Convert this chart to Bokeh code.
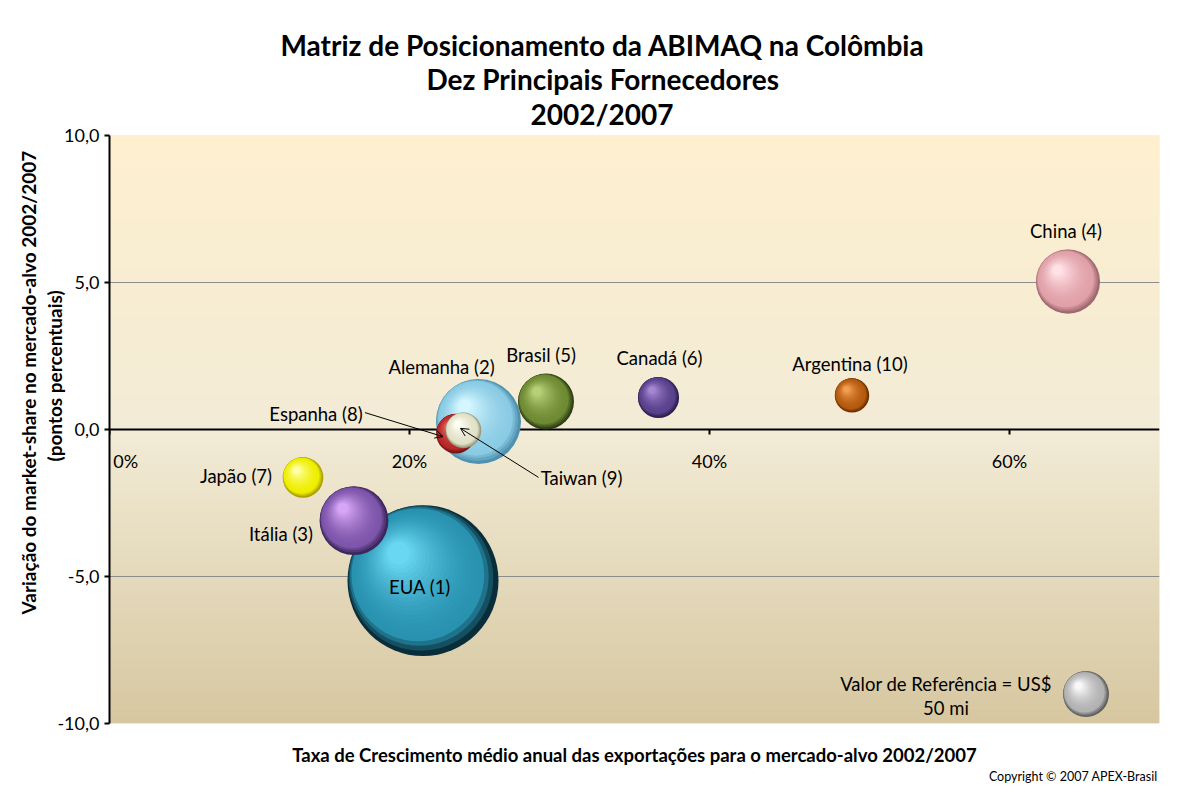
import numpy as np
from bokeh.plotting import figure
from bokeh.models import Range1d, FixedTicker, LinearAxis, Title, Arrow, OpenHead
from bokeh.core.properties import value
from bokeh.embed import file_html
from bokeh.resources import INLINE

# ---------------- data ----------------
countries = ["EUA (1)", "Alemanha (2)", "Itália (3)", "China (4)", "Brasil (5)",
             "Canadá (6)", "Japão (7)", "Espanha (8)", "Taiwan (9)", "Argentina (10)"]
growth = [20.9, 24.6, 16.3, 63.9, 29.1, 36.6, 12.9, 23.1, 23.6, 49.5]        # % a.a.
share_var = [-5.14, 0.27, -3.10, 5.03, 0.95, 1.09, -1.63, -0.14, -0.03, 1.16]  # p.p.
exports = [539, 171, 112, 97, 74, 40, 39, 37, 30, 28]                        # US$ mi

ref_text = "Valor de Referência = US$\n50 mi"
ref_value = 50
ref_x = 65.1
ref_y = -9.0

x_ticks = [0, 20, 40, 60]
x_tick_labels = ["0%", "20%", "40%", "60%"]
y_ticks = [-10, -5, 0, 5, 10]
y_tick_labels = ["-10,0", "-5,0", "0,0", "5,0", "10,0"]
grid_ticks = [-10, -5, 5, 10]

title_lines = ["Matriz de Posicionamento da ABIMAQ na Colômbia",
               "Dez Principais Fornecedores", "2002/2007"]
x_title = "Taxa de Crescimento médio anual das exportações para o mercado-alvo 2002/2007"
y_title = ["Variação do market-share no mercado-alvo 2002/2007", "(pontos percentuais)"]
copyright_text = "Copyright © 2007 APEX-Brasil"

# ---------------- style ----------------
FONT = "Lato"
W, H = 1178, 792
ML, MT = 109, 135
FW, FH = 1050, 588
MR, MB = W - ML - FW, H - MT - FH
X0, X1, Y0, Y1 = 0, 70, -10, 10
PXX = FW / (X1 - X0)
PXY = FH / (Y1 - Y0)
REF_D = 46  # px diameter of the reference bubble

# (dark edge, base, highlight)
palette = [
    ((10, 45, 58), (40, 146, 176), (105, 215, 242)),
    ((80, 145, 175), (138, 203, 228), (212, 246, 255)),
    ((60, 38, 92), (125, 85, 170), (215, 165, 245)),
    ((160, 105, 112), (225, 160, 168), (255, 225, 230)),
    ((48, 64, 22), (110, 138, 50), (182, 208, 118)),
    ((45, 30, 78), (90, 65, 140), (165, 135, 212)),
    ((170, 160, 0), (238, 238, 0), (255, 255, 165)),
    ((115, 22, 22), (185, 40, 40), (235, 120, 120)),
    ((155, 155, 125), (225, 225, 200), (255, 255, 245)),
    ((105, 48, 0), (180, 90, 15), (242, 158, 80)),
]
ref_palette = ((95, 95, 95), (178, 178, 178), (248, 248, 248))

label_dx = [-3, -37, -73, -2, -5, 1, -67, -140, 118, -2]
label_dy = [6, -55, 13, -51, -47, -39, -1, -20, 48, -31]

p = figure(width=W, height=H, x_range=Range1d(X0, X1), y_range=Range1d(Y0, Y1),
           output_backend="svg", toolbar_location=None,
           min_border_left=ML, min_border_right=MR, min_border_top=MT, min_border_bottom=MB)
p.outline_line_color = None
p.background_fill_color = "#f2ebd6"
p.border_fill_color = "white"

# gradient background (decorative stripes)
def mix(c1, c2, t):
    return tuple(int(round(a + (b - a) * t)) for a, b in zip(c1, c2))

def hexc(c):
    return "#%02x%02x%02x" % c

stops = [(-10, (214, 199, 160)), (0, (242, 235, 214)), (10, (254, 239, 207))]
n = 120
edges = np.linspace(Y0, Y1, n + 1)
cols = []
for i in range(n):
    ym = (edges[i] + edges[i + 1]) / 2
    if ym < 0:
        c = mix(stops[0][1], stops[1][1], (ym + 10) / 10)
    else:
        c = mix(stops[1][1], stops[2][1], ym / 10)
    cols.append(hexc(c))
g = p.quad(left=X0, right=X1, bottom=edges[:-1], top=edges[1:] + 0.02,
           fill_color=cols, line_color=None)
g.level = "image"

# grid
p.xgrid.visible = False
p.ygrid.ticker = FixedTicker(ticks=grid_ticks)
p.ygrid.grid_line_color = "#8c8c8c"
p.ygrid.grid_line_width = 1

# x axis: line (under the bubbles) + ticks/labels (on top)
xa = p.xaxis[0]
xa.fixed_location = 0
xa.ticker = FixedTicker(ticks=[])
xa.axis_line_color = "black"
xa.axis_line_width = 2
xa.major_tick_line_color = None
xa.minor_tick_line_color = None
xa.major_label_text_font_size = "0px"
xa.level = "underlay"

# the first label sits on the clipped frame edge: pad it so it stays readable
x_overrides = {t: l for t, l in zip(x_ticks, x_tick_labels)}
x_overrides[x_ticks[0]] = "\u00a0" * 7 + x_tick_labels[0]
xt = LinearAxis(fixed_location=0, ticker=FixedTicker(ticks=x_ticks),
                major_label_overrides=x_overrides)
xt.axis_line_color = None
xt.major_tick_out = 5
xt.major_tick_in = 0
xt.major_tick_line_width = 2
xt.minor_tick_line_color = None
xt.major_label_standoff = 15
xt.major_label_text_font = FONT
xt.major_label_text_font_size = "18px"
xt.major_label_text_color = "black"
p.add_layout(xt, "below")

# x axis title (bottom)
xl = LinearAxis(ticker=FixedTicker(ticks=[]), axis_label=x_title)
xl.axis_line_color = None
xl.major_tick_out = 0
xl.major_tick_in = 0
xl.minor_tick_out = 0
xl.major_label_standoff = 0
xl.major_label_text_font_size = "0px"
xl.axis_label_standoff = 20
xl.axis_label_text_font = FONT
xl.axis_label_text_font_style = "bold"
xl.axis_label_text_font_size = "18.5px"
xl.axis_label_text_color = "black"
p.add_layout(xl, "below")

# y axis
ya = p.yaxis[0]
ya.ticker = FixedTicker(ticks=y_ticks)
ya.major_label_overrides = {t: l for t, l in zip(y_ticks, y_tick_labels)}
ya.axis_line_color = "black"
ya.axis_line_width = 2
ya.major_tick_out = 5
ya.major_tick_in = 0
ya.major_tick_line_width = 2
ya.minor_tick_line_color = None
ya.major_label_standoff = 5
ya.major_label_text_font = FONT
ya.major_label_text_font_size = "18px"
ya.major_label_text_color = "black"

# y axis title: two rotated lines
for txt, off, so in [(y_title[1], 262, -27), (y_title[0], 109, 27)]:
    p.add_layout(Title(text=txt, align="left", offset=off, vertical_align="middle",
                       text_font=FONT, text_font_style="bold", text_font_size="19px",
                       text_color="black", standoff=so), "left")

# bubbles with sphere-like shading
NL = 22
bx, by, bs, bc = [], [], [], []

def add_sphere(x, y, d, pal):
    dark, base, hi = pal
    r = d / 2
    for k in range(NL):
        t = k / (NL - 1)
        if t < 0.14:
            c = mix(dark, base, t / 0.14)
        else:
            c = mix(base, hi, ((t - 0.14) / 0.86) ** 1.6)
        s = d * (1 - 0.85 * t)
        off = 0.45 * r * t ** 0.8
        bx.append(x - off * 0.72 / PXX)
        by.append(y + off * 0.80 / PXY)
        bs.append(s)
        bc.append(hexc(c))

for x, y, v, pal in zip(growth, share_var, exports, palette):
    add_sphere(x, y, REF_D * np.sqrt(v / ref_value), pal)
add_sphere(ref_x, ref_y, REF_D, ref_palette)

p.scatter(x=bx, y=by, size=bs, fill_color=bc, line_color=None, marker="circle")

# bubble labels
p.text(x=growth, y=share_var, text=countries, x_offset=label_dx, y_offset=label_dy,
       text_font=value(FONT), text_font_size="18.5px", text_align="center",
       text_baseline="middle", text_color="black")
p.text(x=[ref_x], y=[ref_y], text=[ref_text], x_offset=[-140], y_offset=[2],
       text_font=value(FONT), text_font_size="18.5px", text_align="center",
       text_baseline="middle", text_color="black", text_line_height=1.12)

# leader arrows (Espanha, Taiwan)
ie, it = countries.index("Espanha (8)"), countries.index("Taiwan (9)")
for i, (sx, sy, ex, ey) in [(ie, (-91, -21, -13, 3)), (it, (75, 47, -3, -2))]:
    p.add_layout(Arrow(end=OpenHead(size=8, line_width=1, line_color="black"),
                       x_start=growth[i] + sx / PXX, y_start=share_var[i] - sy / PXY,
                       x_end=growth[i] + ex / PXX, y_end=share_var[i] - ey / PXY,
                       line_width=1, line_color="black"))

# title (three lines, stacked upward from the frame)
for txt, off, so in reversed(list(zip(title_lines, [171, 317, 421], [10, -13, 10]))):
    p.add_layout(Title(text=txt, align="left", offset=off, text_font=FONT,
                       text_font_style="bold", text_font_size="28px",
                       text_color="black", standoff=so), "above")

# copyright
p.add_layout(Title(text=copyright_text, align="right", offset=2, text_font=FONT,
                   text_font_style="normal", text_font_size="12.5px", text_color="black",
                   standoff=-4), "below")

open("out.html", "w").write(file_html(p, INLINE))
